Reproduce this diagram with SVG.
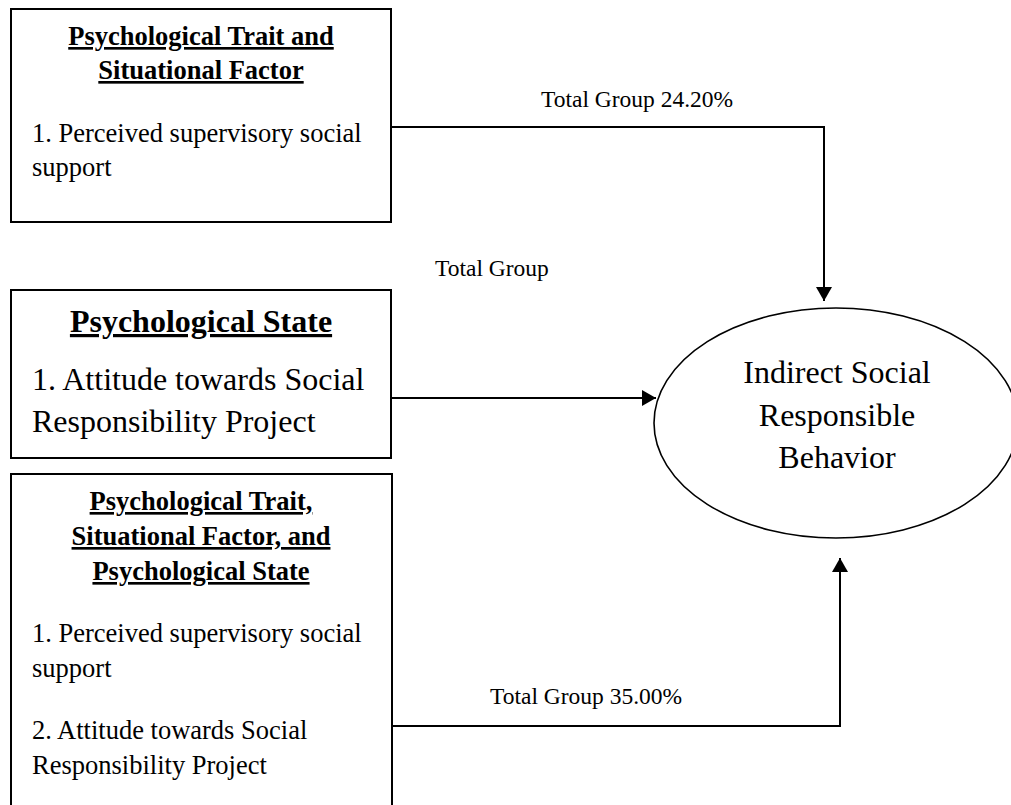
<svg xmlns="http://www.w3.org/2000/svg" width="1011" height="805" viewBox="0 0 1011 805">
  <style>
    text { font-family: "Liberation Serif", "Times New Roman", serif; fill: #000; }
    .box { fill: #fff; stroke: #000; stroke-width: 2; }
    .head { font-weight: bold; font-size: 26.5px; text-decoration: underline; text-anchor: middle; }
    .head-lg { font-weight: bold; font-size: 32px; text-decoration: underline; text-anchor: middle; }
    .body { font-size: 26.5px; }
    .body-lg { font-size: 32px; }
    .label { font-size: 23.5px; }
    .oval { fill: #fff; stroke: #000; stroke-width: 1.6; }
    .oval-text { font-size: 32px; text-anchor: middle; }
    .wire { fill: none; stroke: #000; stroke-width: 2; }
  </style>
  <defs>
    <marker id="arrow" markerUnits="userSpaceOnUse" markerWidth="16" markerHeight="16" refX="14" refY="8" orient="auto">
      <path d="M0,0 L14,8 L0,16 Z" fill="#000"/>
    </marker>
  </defs>

  <rect width="1011" height="805" fill="#fff"/>

  <!-- Outcome -->
  <g id="node-behavior">
    <ellipse class="oval" cx="836" cy="423" rx="182" ry="115"/>
    <text class="oval-text" x="837" y="383">Indirect Social</text>
    <text class="oval-text" x="837" y="426">Responsible</text>
    <text class="oval-text" x="837" y="468">Behavior</text>
  </g>

  <!-- Predictor boxes -->
  <g id="node-trait-situational">
    <rect class="box" x="11" y="9" width="380" height="213"/>
    <text class="head" x="201" y="45">Psychological Trait and</text>
    <text class="head" x="201" y="79">Situational Factor</text>
    <text class="body" x="32" y="142">1. Perceived supervisory social</text>
    <text class="body" x="32" y="176">support</text>
  </g>

  <g id="node-state">
    <rect class="box" x="11" y="290" width="380" height="168"/>
    <text class="head-lg" x="201" y="332">Psychological State</text>
    <text class="body-lg" x="32" y="390">1. Attitude towards Social</text>
    <text class="body-lg" x="32" y="432">Responsibility Project</text>
  </g>

  <g id="node-combined">
    <rect class="box" x="11" y="474" width="381" height="350"/>
    <text class="head" x="201" y="510">Psychological Trait,</text>
    <text class="head" x="201" y="545">Situational Factor, and</text>
    <text class="head" x="201" y="580">Psychological State</text>
    <text class="body" x="32" y="642">1. Perceived supervisory social</text>
    <text class="body" x="32" y="677">support</text>
    <text class="body" x="32" y="739">2. Attitude towards Social</text>
    <text class="body" x="32" y="774">Responsibility Project</text>
  </g>

  <!-- Connectors -->
  <g id="connectors">
    <path class="wire" d="M391,127 H824 V301" marker-end="url(#arrow)"/>
    <path class="wire" d="M391,398 H656" marker-end="url(#arrow)"/>
    <path class="wire" d="M392,726 H840 V558" marker-end="url(#arrow)"/>
    <text class="label" x="541" y="107">Total Group 24.20%</text>
    <text class="label" x="435" y="276">Total Group</text>
    <text class="label" x="490" y="704">Total Group 35.00%</text>
  </g>
</svg>
